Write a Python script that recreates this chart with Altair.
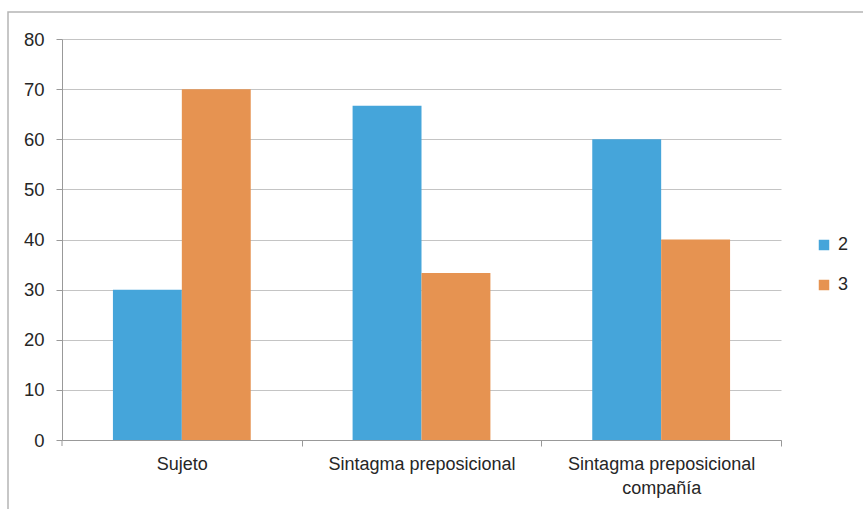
import altair as alt
import pandas as pd

categories = ["Sujeto", "Sintagma preposicional", "Sintagma preposicional|compañía"]
series = ["2", "3"]
values_2 = [30, 66.7, 60]
values_3 = [70, 33.3, 40]
colors = ["#45A5DA", "#E69351"]

rows = []
for c, a, b in zip(categories, values_2, values_3):
    rows.append({"cat": c, "serie": "2", "val": a})
    rows.append({"cat": c, "serie": "3", "val": b})
df = pd.DataFrame(rows)

FONT = "Liberation Sans"
TXT = "#262626"

bars = alt.Chart(df).mark_bar().encode(
    x=alt.X("cat:N", sort=categories,
            scale=alt.Scale(paddingInner=0.425, paddingOuter=0.2125),
            axis=alt.Axis(title=None, labelAngle=0, labelExpr="split(datum.label, '|')",
                          labelFontSize=18, labelFont=FONT, labelColor=TXT,
                          labelPadding=9, labelLineHeight=24, labelLimit=0,
                          tickOffset=120, labelOffset=-120,
                          tickSize=6, tickColor="#999999",
                          domainColor="#999999", grid=False)),
    xOffset=alt.XOffset("serie:N", sort=series,
                        scale=alt.Scale(paddingInner=0, paddingOuter=0)),
    y=alt.Y("val:Q", scale=alt.Scale(domain=[0, 80], nice=False),
            axis=alt.Axis(title=None, values=list(range(0, 81, 10)),
                          labelFontSize=18.5, labelFont=FONT, labelColor=TXT,
                          labelPadding=12, tickSize=6, tickColor="#999999",
                          domainColor="#999999", gridColor="#C4C4C4", gridWidth=1)),
    color=alt.Color("serie:N", sort=series,
                    scale=alt.Scale(domain=series, range=colors),
                    legend=alt.Legend(title=None, orient="none", legendX=753, legendY=197,
                                      symbolType="square", symbolSize=110,
                                      symbolStrokeWidth=0, labelFontSize=18,
                                      labelFont=FONT, labelColor=TXT,
                                      rowPadding=22, labelOffset=5)),
)

first_tick = alt.Chart(pd.DataFrame({"a": [0]})).mark_rule(
    color="#999999", strokeWidth=1
).encode(x=alt.value(0), y=alt.value(401), y2=alt.value(407))

border = alt.Chart(pd.DataFrame({"a": [0]})).mark_rect(
    fill=None, stroke="#B5B5B5", strokeWidth=1.5
).encode(x=alt.value(-54), x2=alt.value(900), y=alt.value(-27), y2=alt.value(600))

chart = alt.layer(border, bars, first_tick).properties(
    width=719, height=401,
    autosize=alt.AutoSizeParams(type="none"),
    padding={"left": 62, "top": 39, "right": 82, "bottom": 69},
    background="white",
).configure_view(stroke=None)

chart.save("out.html", embed_options={"renderer": "svg", "actions": False})
